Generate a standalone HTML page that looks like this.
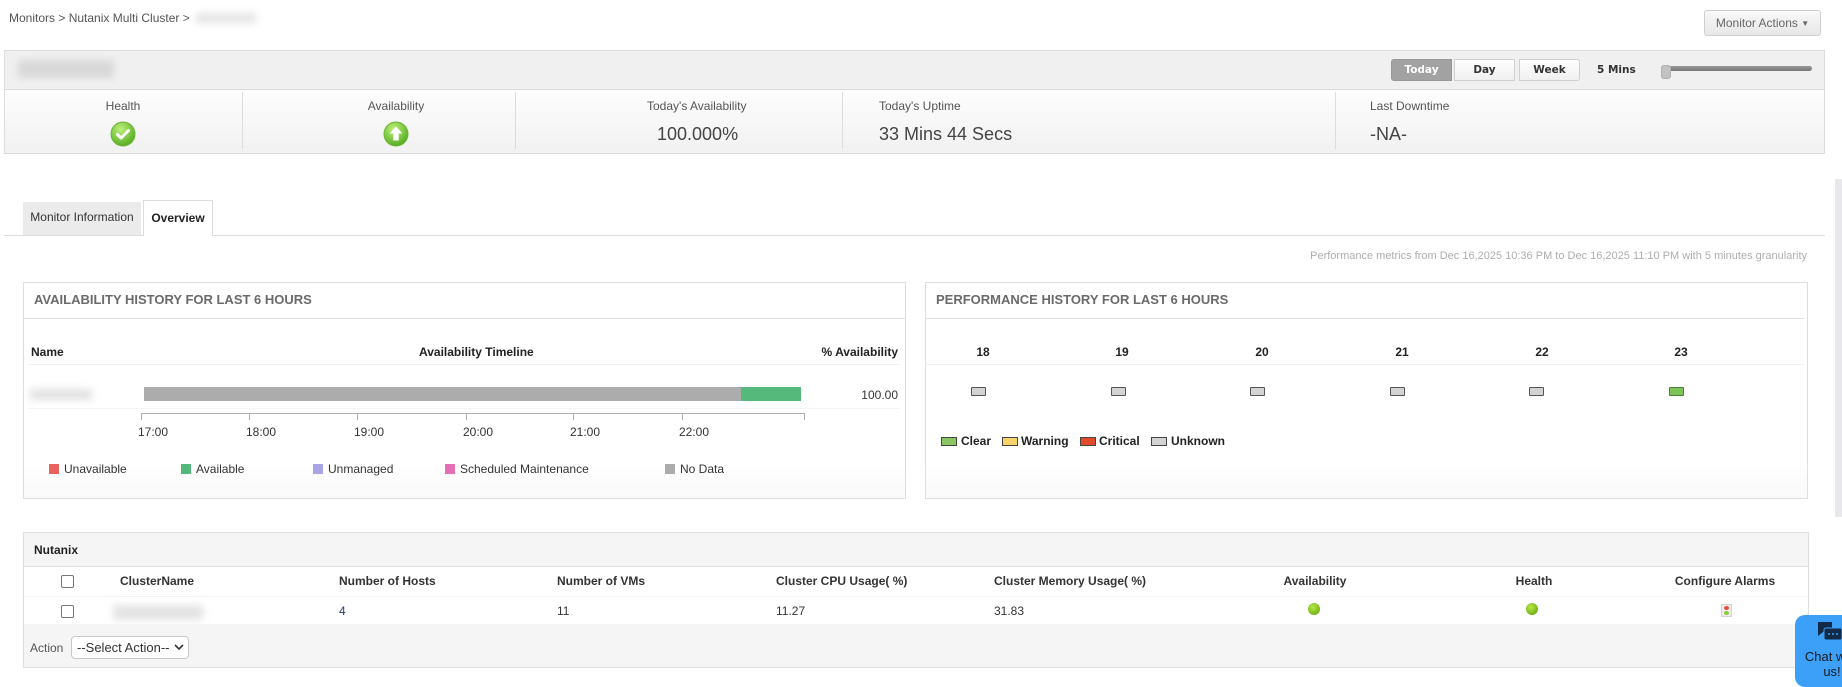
<!DOCTYPE html>
<html>
<head>
<meta charset="utf-8">
<style>
html,body{margin:0;padding:0;}
body{width:1842px;height:685px;overflow:hidden;position:relative;background:#fff;font-family:"Liberation Sans",Arial,sans-serif;color:#333;}
.a{position:absolute;white-space:nowrap;}
.t12{font-size:12px;line-height:16px;height:16px;}
.b{font-weight:bold;}
.blur{position:absolute;background:#cfcfcf;filter:blur(4px);opacity:.8;}
.panel{position:absolute;border:1px solid #dedede;box-sizing:border-box;background:linear-gradient(#fff 85%,#f9f9f9);}
.title{font-size:13px;font-weight:bold;color:#6a6a6a;line-height:16px;}
.sq{position:absolute;width:10px;height:10px;}
.pbox{position:absolute;width:13px;height:7px;border:1px solid #555;background:#d3d3d3;border-radius:1px;}
.sw{position:absolute;width:14px;height:7px;border:1px solid #444;}
.cb{position:absolute;width:11px;height:11px;border:1px solid #777;border-radius:2px;background:#fff;}
.dot{position:absolute;width:12px;height:12px;border-radius:50%;background:radial-gradient(circle at 40% 35%,#b8e84a,#74b414 70%,#5f9c0c);}
.tb{position:absolute;top:59px;height:22px;box-sizing:border-box;font-family:"DejaVu Sans",Verdana,sans-serif;font-weight:bold;font-size:10.5px;line-height:20px;text-align:center;}
</style>
</head>
<body>

<!-- breadcrumb -->
<div class="a t12" style="left:9px;top:10px;color:#555;">Monitors &gt; Nutanix Multi Cluster &gt;</div>
<div class="blur" style="left:196px;top:13px;width:60px;height:10px;background:#ddd;"></div>

<!-- Monitor actions -->
<div class="a" style="left:1704px;top:10px;width:117px;height:26px;box-sizing:border-box;border:1px solid #cfcfcf;border-radius:3px;background:linear-gradient(#f9f9f9,#e7e7e7);font-size:12px;line-height:24px;text-align:center;color:#666;">Monitor Actions <span style="font-size:8px;position:relative;top:-1px;">&#9660;</span></div>

<!-- header box -->
<div class="a" style="left:4px;top:50px;width:1821px;height:104px;box-sizing:border-box;border:1px solid #dcdcdc;background:linear-gradient(#fff 30%,#f1f1f1);"></div>
<div class="a" style="left:5px;top:51px;width:1819px;height:38px;background:#f0f0f0;border-bottom:1px solid #dcdcdc;"></div>
<div class="blur" style="left:18px;top:60px;width:96px;height:18px;background:#d2d2d2;"></div>

<div class="tb" style="left:1391px;width:61px;background:#a2a2a2;border:1px solid #979797;border-radius:3px 0 0 3px;color:#fff;">Today</div>
<div class="tb" style="left:1454px;width:61px;background:linear-gradient(#fff,#f0f0f0);border:1px solid #cfcfcf;color:#333;">Day</div>
<div class="tb" style="left:1519px;width:61px;background:linear-gradient(#fff,#f0f0f0);border:1px solid #cfcfcf;border-radius:0 3px 3px 0;color:#333;">Week</div>
<div class="a" style="left:1597px;top:62px;font-family:'DejaVu Sans',Verdana,sans-serif;font-weight:bold;font-size:10.5px;line-height:16px;color:#333;">5 Mins</div>
<div class="a" style="left:1661px;top:66px;width:151px;height:5px;border-radius:3px;background:linear-gradient(#999,#777);"></div>
<div class="a" style="left:1661px;top:65px;width:10px;height:14px;border-radius:3px;background:#c2c2c2;border:1px solid #b0b0b0;box-sizing:border-box;"></div>

<!-- dividers -->
<div class="a" style="left:242px;top:92px;width:1px;height:57px;background:#dcdcdc;"></div>
<div class="a" style="left:515px;top:92px;width:1px;height:57px;background:#dcdcdc;"></div>
<div class="a" style="left:842px;top:92px;width:1px;height:57px;background:#dcdcdc;"></div>
<div class="a" style="left:1335px;top:92px;width:1px;height:57px;background:#dcdcdc;"></div>

<div class="a t12" style="left:73px;width:100px;text-align:center;top:98px;color:#555;">Health</div>
<svg class="a" style="left:110px;top:121px;" width="26" height="26" viewBox="0 0 26 26">
<defs><radialGradient id="g1" cx="40%" cy="30%" r="75%"><stop offset="0" stop-color="#bff07a"/><stop offset="1" stop-color="#4ea91c"/></radialGradient></defs>
<circle cx="13" cy="13" r="12" fill="url(#g1)" stroke="#6cb53a" stroke-width="1"/>
<path d="M7.5 13.5 L11.2 17 L18.5 9.5" stroke="#fff" stroke-width="3" fill="none" stroke-linecap="round" stroke-linejoin="round"/>
</svg>
<div class="a t12" style="left:336px;width:120px;text-align:center;top:98px;color:#555;">Availability</div>
<svg class="a" style="left:383px;top:121px;" width="26" height="26" viewBox="0 0 26 26">
<defs><radialGradient id="g2" cx="40%" cy="30%" r="75%"><stop offset="0" stop-color="#bff07a"/><stop offset="1" stop-color="#4ea91c"/></radialGradient></defs>
<circle cx="13" cy="13" r="12" fill="url(#g2)" stroke="#6cb53a" stroke-width="1"/>
<path d="M13 5.5 L19.5 12.5 L15.7 12.5 L15.7 19.5 L10.3 19.5 L10.3 12.5 L6.5 12.5 Z" fill="#fff"/>
</svg>

<div class="a t12" style="left:647px;top:98px;color:#555;">Today's Availability</div>
<div class="a" style="left:657px;top:123px;font-size:18px;line-height:22px;color:#444;">100.000%</div>
<div class="a t12" style="left:879px;top:98px;color:#555;">Today's Uptime</div>
<div class="a" style="left:879px;top:123px;font-size:18px;line-height:22px;color:#444;">33 Mins 44 Secs</div>
<div class="a t12" style="left:1370px;top:98px;color:#555;">Last Downtime</div>
<div class="a" style="left:1370px;top:123px;font-size:18px;line-height:22px;color:#444;">-NA-</div>

<!-- tabs -->
<div class="a" style="left:4px;top:235px;width:1821px;height:1px;background:#dcdcdc;"></div>
<div class="a t12" style="left:23px;top:202px;width:118px;height:33px;line-height:31px;background:#ebebeb;text-align:center;color:#333;">Monitor Information</div>
<div class="a t12 b" style="left:143px;top:200px;width:70px;height:36px;line-height:34px;box-sizing:border-box;background:#fff;border:1px solid #dcdcdc;border-bottom:none;text-align:center;color:#222;">Overview</div>

<div class="a" style="right:35px;top:249px;font-size:11px;line-height:15px;color:#adadad;">Performance metrics from Dec 16,2025 10:36 PM to Dec 16,2025 11:10 PM with 5 minutes granularity</div>

<!-- scrollbar -->
<div class="a" style="left:1835px;top:179px;width:7px;height:338px;background:#e8e8ec;"></div>

<!-- availability panel -->
<div class="panel" style="left:23px;top:282px;width:883px;height:217px;"></div>
<div class="a" style="left:24px;top:318px;width:881px;height:1px;background:#e2e2e2;"></div>
<div class="a title" style="left:34px;top:292px;">AVAILABILITY HISTORY FOR LAST 6 HOURS</div>
<div class="a t12 b" style="left:31px;top:344px;color:#222;">Name</div>
<div class="a t12 b" style="left:419px;top:344px;color:#222;">Availability Timeline</div>
<div class="a t12 b" style="right:944px;top:344px;color:#222;">% Availability</div>
<div class="a" style="left:28px;top:364px;width:872px;height:1px;background:#f2f2f2;"></div>
<div class="blur" style="left:30px;top:389px;width:62px;height:11px;background:#dadada;"></div>
<div class="a" style="left:144px;top:387px;width:597px;height:14px;background:#acacac;"></div>
<div class="a" style="left:741px;top:387px;width:60px;height:14px;background:#55b97c;"></div>
<div class="a t12" style="right:944px;top:387px;color:#333;">100.00</div>
<div class="a" style="left:28px;top:408px;width:872px;height:1px;background:#f4f4f4;"></div>
<!-- axis -->
<div class="a" style="left:141px;top:413px;width:664px;height:1px;background:#b0b0b0;"></div>
<div class="a" style="left:141px;top:413px;width:1px;height:7px;background:#b0b0b0;"></div>
<div class="a" style="left:249px;top:413px;width:1px;height:7px;background:#b0b0b0;"></div>
<div class="a" style="left:357px;top:413px;width:1px;height:7px;background:#b0b0b0;"></div>
<div class="a" style="left:466px;top:413px;width:1px;height:7px;background:#b0b0b0;"></div>
<div class="a" style="left:573px;top:413px;width:1px;height:7px;background:#b0b0b0;"></div>
<div class="a" style="left:682px;top:413px;width:1px;height:7px;background:#b0b0b0;"></div>
<div class="a" style="left:804px;top:413px;width:1px;height:7px;background:#b0b0b0;"></div>
<div class="a t12" style="left:138px;top:424px;">17:00</div>
<div class="a t12" style="left:246px;top:424px;">18:00</div>
<div class="a t12" style="left:354px;top:424px;">19:00</div>
<div class="a t12" style="left:463px;top:424px;">20:00</div>
<div class="a t12" style="left:570px;top:424px;">21:00</div>
<div class="a t12" style="left:679px;top:424px;">22:00</div>
<!-- legend -->
<div class="sq" style="left:49px;top:464px;background:#e8625f;"></div>
<div class="a t12" style="left:64px;top:461px;">Unavailable</div>
<div class="sq" style="left:181px;top:464px;background:#52b87c;"></div>
<div class="a t12" style="left:196px;top:461px;">Available</div>
<div class="sq" style="left:313px;top:464px;background:#a9a4e3;"></div>
<div class="a t12" style="left:328px;top:461px;">Unmanaged</div>
<div class="sq" style="left:445px;top:464px;background:#e56fb5;"></div>
<div class="a t12" style="left:460px;top:461px;">Scheduled Maintenance</div>
<div class="sq" style="left:665px;top:464px;background:#acacac;"></div>
<div class="a t12" style="left:680px;top:461px;">No Data</div>

<!-- performance panel -->
<div class="panel" style="left:925px;top:282px;width:883px;height:217px;"></div>
<div class="a" style="left:926px;top:318px;width:878px;height:1px;background:#e2e2e2;"></div>
<div class="a title" style="left:936px;top:292px;">PERFORMANCE HISTORY FOR LAST 6 HOURS</div>
<div class="a t12 b" style="left:963px;width:40px;text-align:center;top:344px;color:#222;">18</div>
<div class="a t12 b" style="left:1102px;width:40px;text-align:center;top:344px;color:#222;">19</div>
<div class="a t12 b" style="left:1242px;width:40px;text-align:center;top:344px;color:#222;">20</div>
<div class="a t12 b" style="left:1382px;width:40px;text-align:center;top:344px;color:#222;">21</div>
<div class="a t12 b" style="left:1522px;width:40px;text-align:center;top:344px;color:#222;">22</div>
<div class="a t12 b" style="left:1661px;width:40px;text-align:center;top:344px;color:#222;">23</div>
<div class="a" style="left:926px;top:364px;width:878px;height:1px;background:#f2f2f2;"></div>
<div class="pbox" style="left:971px;top:387px;"></div>
<div class="pbox" style="left:1111px;top:387px;"></div>
<div class="pbox" style="left:1250px;top:387px;"></div>
<div class="pbox" style="left:1390px;top:387px;"></div>
<div class="pbox" style="left:1529px;top:387px;"></div>
<div class="pbox" style="left:1669px;top:387px;background:#7cc35a;border-color:#4f7d35;"></div>
<div class="sw" style="left:941px;top:437px;background:#8cc660;"></div>
<div class="a t12 b" style="left:961px;top:433px;color:#222;">Clear</div>
<div class="sw" style="left:1002px;top:437px;background:#f5d56a;"></div>
<div class="a t12 b" style="left:1021px;top:433px;color:#222;">Warning</div>
<div class="sw" style="left:1080px;top:437px;background:#e14a2a;"></div>
<div class="a t12 b" style="left:1099px;top:433px;color:#222;">Critical</div>
<div class="sw" style="left:1151px;top:437px;background:#d3d3d3;"></div>
<div class="a t12 b" style="left:1171px;top:433px;color:#222;">Unknown</div>

<!-- table panel -->
<div class="a" style="left:23px;top:532px;width:1786px;height:136px;box-sizing:border-box;border:1px solid #dedede;background:#fff;"></div>
<div class="a" style="left:24px;top:533px;width:1784px;height:33px;background:#f5f5f5;border-bottom:1px solid #e2e2e2;"></div>
<div class="a t12 b" style="left:34px;top:542px;color:#222;">Nutanix</div>
<div class="cb" style="left:61px;top:575px;"></div>
<div class="a t12 b" style="left:120px;top:573px;color:#333;">ClusterName</div>
<div class="a t12 b" style="left:339px;top:573px;color:#333;">Number of Hosts</div>
<div class="a t12 b" style="left:557px;top:573px;color:#333;">Number of VMs</div>
<div class="a t12 b" style="left:776px;top:573px;color:#333;">Cluster CPU Usage( %)</div>
<div class="a t12 b" style="left:994px;top:573px;color:#333;">Cluster Memory Usage( %)</div>
<div class="a t12 b" style="left:1275px;width:80px;text-align:center;top:573px;color:#333;">Availability</div>
<div class="a t12 b" style="left:1494px;width:80px;text-align:center;top:573px;color:#333;">Health</div>
<div class="a t12 b" style="left:1665px;width:120px;text-align:center;top:573px;color:#333;">Configure Alarms</div>
<div class="a" style="left:24px;top:596px;width:1784px;height:1px;background:#f4f4f4;"></div>
<div class="cb" style="left:61px;top:605px;"></div>
<div class="blur" style="left:113px;top:605px;width:90px;height:15px;background:#dcdcdc;"></div>
<div class="a t12" style="left:339px;top:603px;color:#1f3d73;">4</div>
<div class="a t12" style="left:557px;top:603px;color:#333;">11</div>
<div class="a t12" style="left:776px;top:603px;color:#333;">11.27</div>
<div class="a t12" style="left:994px;top:603px;color:#333;">31.83</div>
<div class="dot" style="left:1308px;top:603px;"></div>
<div class="dot" style="left:1526px;top:603px;"></div>
<div class="a" style="left:1721px;top:604px;width:11px;height:13px;box-sizing:border-box;background:#ececec;border:1px solid #d4d4d4;"></div>
<div class="a" style="left:1724px;top:606px;width:5px;height:4px;border-radius:50%;background:#e0503c;"></div>
<div class="a" style="left:1724px;top:611px;width:5px;height:4px;border-radius:50%;background:#8ccb3c;"></div>
<div class="a" style="left:24px;top:624px;width:1784px;height:43px;background:#f5f5f5;"></div>
<div class="a t12" style="left:30px;top:640px;color:#555;">Action</div>
<div class="a" style="left:71px;top:636px;width:118px;height:23px;box-sizing:border-box;background:#fff;border:1px solid #c8c8c8;border-radius:4px;font-size:13px;line-height:21px;color:#333;padding-left:5px;">--Select Action--</div>
<svg class="a" style="left:174px;top:644px;" width="10" height="7" viewBox="0 0 10 7"><path d="M1 1 L5 5 L9 1" stroke="#333" stroke-width="1.6" fill="none"/></svg>

<!-- chat widget -->
<div class="a" style="left:1795px;top:615px;width:74px;height:72px;background:#3da0f8;border-radius:10px;"></div>
<svg class="a" style="left:1818px;top:622px;" width="24" height="22" viewBox="0 0 24 22">
<path d="M0 0 H14 V10 H5 L0 14 Z" fill="#102a47"/>
<rect x="6" y="6" width="18" height="12" rx="2" fill="#102a47" stroke="#3da0f8" stroke-width="1"/>
<circle cx="11" cy="12" r="1" fill="#3da0f8"/><circle cx="15" cy="12" r="1" fill="#3da0f8"/><circle cx="19" cy="12" r="1" fill="#3da0f8"/>
</svg>
<div class="a" style="left:1795px;top:649px;width:74px;text-align:center;font-size:13px;line-height:15px;color:#1a1a1a;">Chat with<br>us!</div>

</body>
</html>
